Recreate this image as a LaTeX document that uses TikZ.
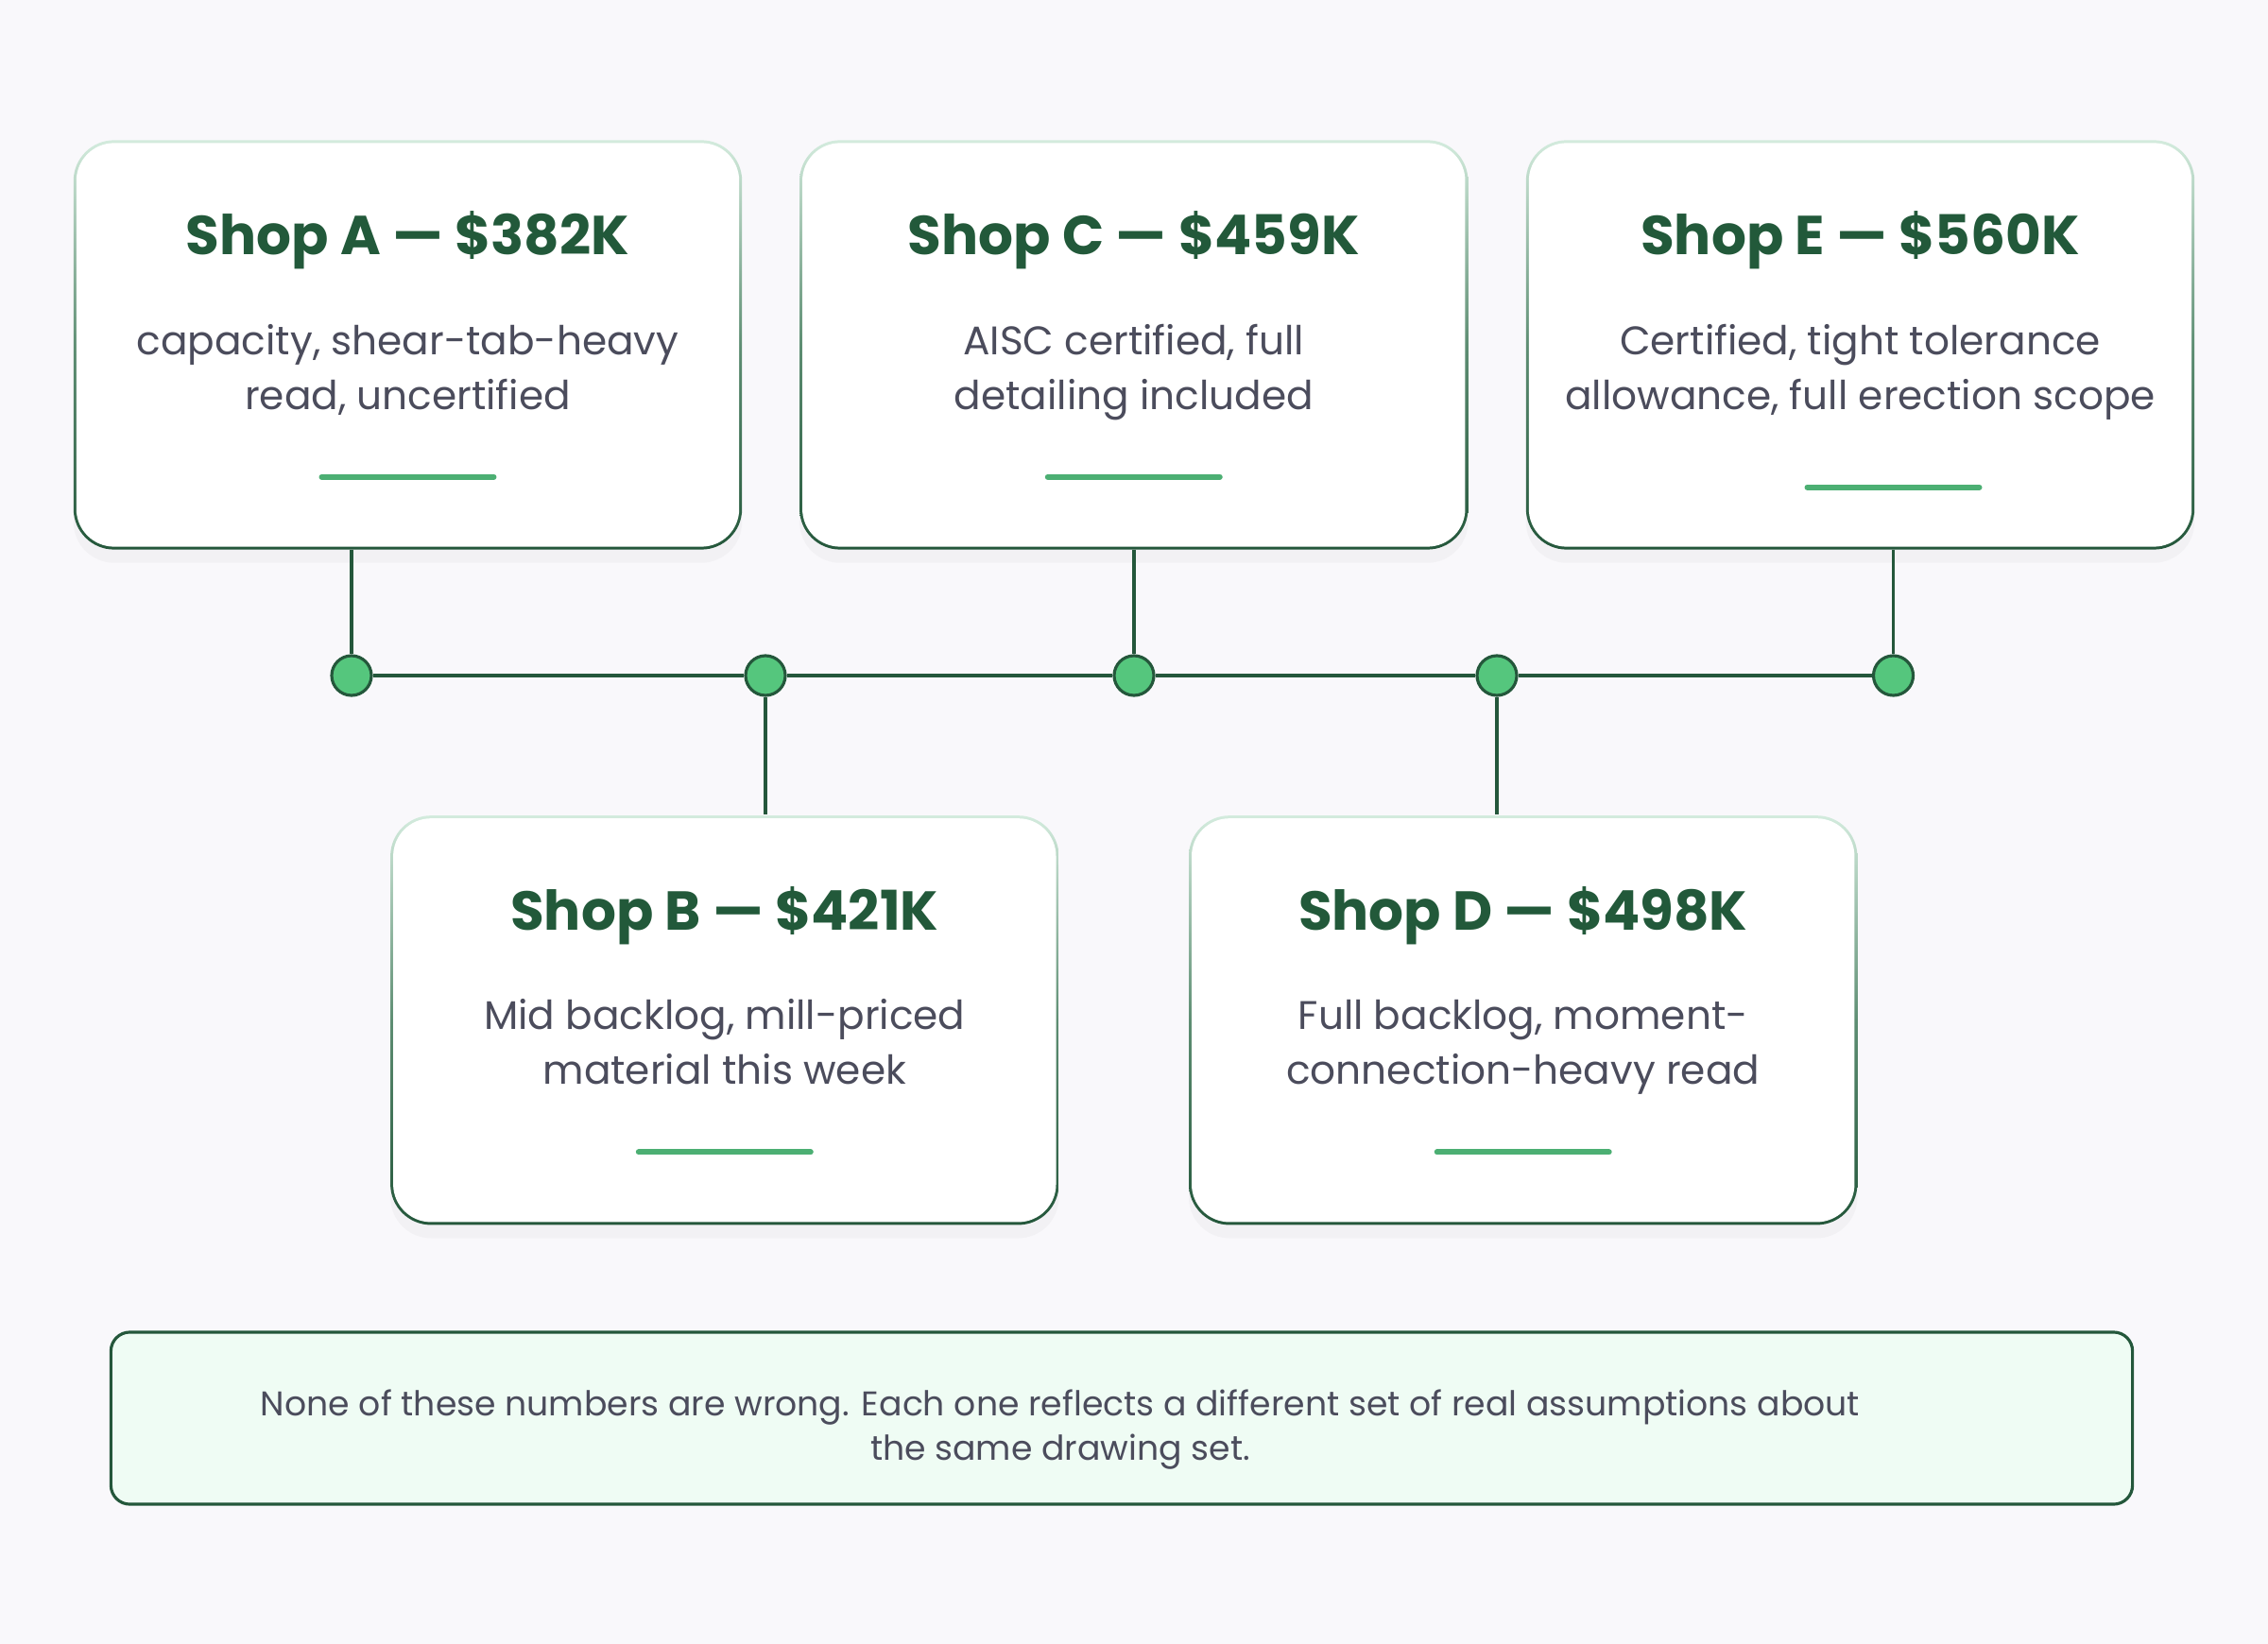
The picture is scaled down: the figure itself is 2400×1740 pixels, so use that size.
\documentclass[tikz,border=0pt]{standalone}
\usepackage{fontspec}
\setmainfont{Poppins}
\usetikzlibrary{calc,shadows}

\definecolor{bgcol}{HTML}{F9F8FB}
\definecolor{wire}{HTML}{24573B}
\definecolor{cardtop}{HTML}{D3EBDD}
\definecolor{cardmid}{HTML}{5E8E73}
\definecolor{titlegreen}{HTML}{22593A}
\definecolor{notegray}{HTML}{4B4C5C}
\definecolor{markgreen}{HTML}{4CAF73}
\definecolor{dotgreen}{HTML}{55C67D}
\definecolor{notefill}{HTML}{EFFCF4}

\tikzset{
  card/.style={rectangle, rounded corners=0.43cm, minimum width=7.07cm, minimum height=4.33cm,
    top color=cardtop, bottom color=wire, middle color=cardmid,
    drop shadow={opacity=0.05, shadow xshift=0pt, shadow yshift=-4pt},
    path picture={\fill[white, rounded corners=0.40cm]
      ([shift={(0.03cm,0.03cm)}]path picture bounding box.south west) rectangle
      ([shift={(-0.03cm,-0.03cm)}]path picture bounding box.north east);}},
  dot/.style={circle, draw=wire, fill=dotgreen, line width=0.9pt, minimum size=0.42cm, inner sep=0pt},
  wire/.style={draw=wire, line width=0.95pt},
  markline/.style={draw=markgreen, line width=1.7pt, line cap=round},
  shoptitle/.style={font=\bfseries\fontsize{16.5}{19}\selectfont, text=titlegreen},
  shopnote/.style={font=\fontsize{12}{16.5}\selectfont, text=notegray, align=center,
    execute at begin node=\strut, execute at end node=\strut},
  notebox/.style={rectangle, rounded corners=0.2cm, minimum width=21.38cm, minimum height=1.82cm,
    draw=wire, line width=0.9pt, fill=notefill},
  notetext/.style={font=\fontsize{10.3}{13.4}\selectfont, text=notegray, align=center}
}

\begin{document}
\begin{tikzpicture}[x=0.01cm, y=-0.01cm]
  \useasboundingbox[fill=bgcol] (0,0) rectangle (2400,1740);

  \node[card] (A) at (431.5,365) {};
  \node[card] (C) at (1199.75,365) {};
  \node[card] (E) at (1968.5,365) {};
  \node[card] (B) at (766.8,1079.8) {};
  \node[card] (D) at (1611.7,1079.8) {};

  \node[dot] (dA) at (372,715) {};
  \node[dot] (dB) at (810,715) {};
  \node[dot] (dC) at (1200,715) {};
  \node[dot] (dD) at (1584,715) {};
  \node[dot] (dE) at (2003.5,715) {};

  \draw[wire] (dA) -- (dB) -- (dC) -- (dD) -- (dE);
  \draw[wire] (dA) -- (dA |- A.south);
  \draw[wire] (dC) -- (dC |- C.south);
  \draw[wire] (dE) -- (dE |- E.south);
  \draw[wire] (dB) -- (dB |- B.north);
  \draw[wire] (dD) -- (dD |- D.north);

  \node[shoptitle] (tA) at ($(A.north)+(0,107)$) {Shop A — \$382K};
  \node[shopnote] (nA) at ($(A.north)+(0,249)$) {capacity, shear-tab-heavy\\read, uncertified};
  \draw[markline] ($(A.north)+(-91,357)$) -- ++(182,0);

  \node[shoptitle] (tC) at ($(C.north)+(0,107)$) {Shop C — \$459K};
  \node[shopnote] (nC) at ($(C.north)+(0,249)$) {AISC certified, full\\detailing included};
  \draw[markline] ($(C.north)+(-91,357)$) -- ++(182,0);

  \node[shoptitle] (tE) at ($(E.north)+(0,107)$) {Shop E — \$560K};
  \node[shopnote] (nE) at ($(E.north)+(0,249)$) {Certified, tight tolerance\\allowance, full erection scope};
  \draw[markline] ($(E.north)+(-56,368)$) -- ++(182,0);

  \node[shoptitle] (tB) at ($(B.north)+(0,107)$) {Shop B — \$421K};
  \node[shopnote] (nB) at ($(B.north)+(0,249)$) {Mid backlog, mill-priced\\material this week};
  \draw[markline] ($(B.north)+(-91,357)$) -- ++(182,0);

  \node[shoptitle] (tD) at ($(D.north)+(0,107)$) {Shop D — \$498K};
  \node[shopnote] (nD) at ($(D.north)+(0,249)$) {Full backlog, moment-\\connection-heavy read};
  \draw[markline] ($(D.north)+(-91,357)$) -- ++(182,0);

  \node[notebox] (N) at (1187,1501) {};
  \node[notetext] (nN) at (1122,1513) {None of these numbers are wrong. Each one reflects a different set of real assumptions about\\the same drawing set.};
\end{tikzpicture}
\end{document}
